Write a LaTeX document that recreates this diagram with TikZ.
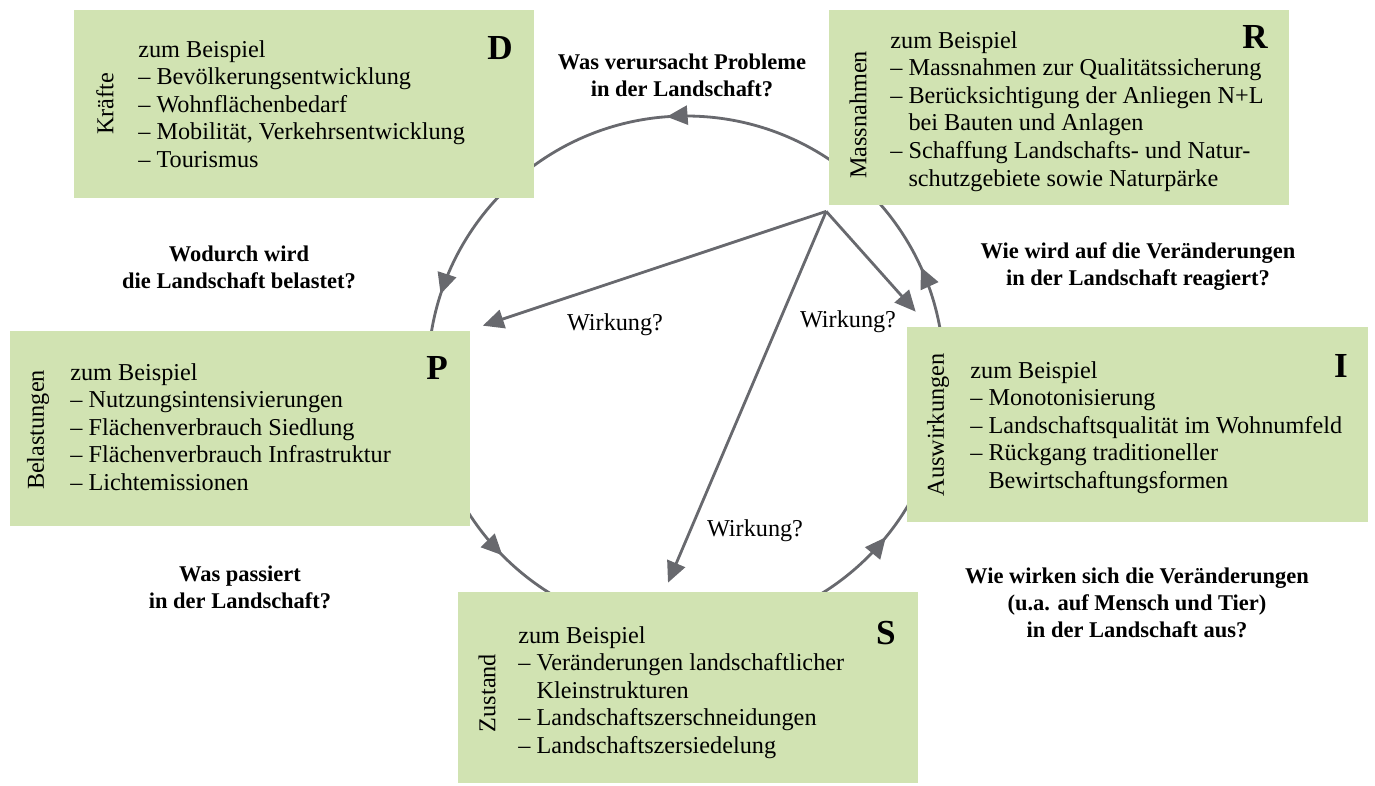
\documentclass[tikz,border=0pt]{standalone}
\usepackage{fontspec}
\setmainfont{Liberation Serif}
\usetikzlibrary{arrows.meta, positioning, calc, decorations.markings}
\definecolor{BoxGreen}{RGB}{209,227,178}
\definecolor{RingGray}{RGB}{104,105,110}
\newcommand{\contline}{\hphantom{–~}}

\begin{document}
\begin{tikzpicture}[x=0.02cm, y=-0.02cm,
    box/.style={fill=BoxGreen, inner sep=0pt, minimum width=9.22cm},
    side/.style={rotate=90, font=\fontsize{13.8}{15.7}\selectfont},
    items/.style={anchor=north west, inner sep=0pt, align=left, font=\fontsize{13.8}{15.7}\selectfont},
    letter/.style={font=\fontsize{20}{24}\selectfont\bfseries},
    question/.style={align=center, font=\fontsize{12.8}{15.4}\selectfont\bfseries},
    effect/.style={font=\fontsize{13.8}{15.7}\selectfont},
    ring/.style={RingGray, line width=1.6pt},
    arrow/.style={RingGray, line width=1.6pt, -{Triangle[length=0.42cm, width=0.38cm]}}
]
    \useasboundingbox (0,0) rectangle (1375,785);

    % the cycle behind the boxes
    \coordinate (C) at (686,374);
    \draw[ring, postaction={decorate}, decoration={markings,
        mark=at position 0.109 with {\arrowreversed{Triangle[length=0.42cm, width=0.38cm]}},
        mark=at position 0.376 with {\arrowreversed{Triangle[length=0.42cm, width=0.38cm]}},
        mark=at position 0.550 with {\arrowreversed{Triangle[length=0.42cm, width=0.38cm]}},
        mark=at position 0.738 with {\arrowreversed{Triangle[length=0.42cm, width=0.38cm]}},
        mark=at position 0.932 with {\arrowreversed{Triangle[length=0.42cm, width=0.38cm]}}}]
        (C) circle[radius=258];

    % boxes
    \node[box, minimum height=3.76cm] (D) at (304,104) {};
    \node[box, minimum height=3.9cm] (R) at (1059,107.5) {};
    \node[box, minimum height=3.9cm] (P) at (240,428.5) {};
    \node[box, minimum height=3.9cm] (I) at (1137.5,424.5) {};
    \node[box, minimum height=3.82cm] (S) at (688,687.5) {};

    % D
    \node[side] (Dside) at (105,104) {Kräfte};
    \node[letter] (Dletter) at (500,48) {D};
    \node[items] (Ditems) at (138,40) {zum Beispiel\\
        – Bevölkerungsentwicklung\\
        – Wohnflächenbedarf\\
        – Mobilität, Verkehrsentwicklung\\
        – Tourismus};

    % R
    \node[side] (Rside) at (858,115) {Massnahmen};
    \node[letter] (Rletter) at (1255,37) {R};
    \node[items] (Ritems) at (890,31) {zum Beispiel\\
        – Massnahmen zur Qualitätssicherung\\
        – Berücksichtigung der Anliegen N+L\\
        \contline bei Bauten und Anlagen\\
        – Schaffung Landschafts- und Natur-\\
        \contline schutzgebiete sowie Naturpärke};

    % P
    \node[side] (Pside) at (38,430) {Belastungen};
    \node[letter] (Pletter) at (437,368) {P};
    \node[items] (Pitems) at (70,363) {zum Beispiel\\
        – Nutzungsintensivierungen\\
        – Flächenverbrauch Siedlung\\
        – Flächenverbrauch Infrastruktur\\
        – Lichtemissionen};

    % I
    \node[side] (Iside) at (938,425) {Auswirkungen};
    \node[letter] (Iletter) at (1341,366) {I};
    \node[items] (Iitems) at (970,361) {zum Beispiel\\
        – Monotonisierung\\
        – Landschaftsqualität im Wohnumfeld\\
        – Rückgang traditioneller\\
        \contline Bewirtschaftungsformen};

    % S
    \node[side] (Sside) at (487,693) {Zustand};
    \node[letter] (Sletter) at (886,633) {S};
    \node[items] (Sitems) at (518,626) {zum Beispiel\\
        – Veränderungen landschaftlicher\\
        \contline Kleinstrukturen\\
        – Landschaftszerschneidungen\\
        – Landschaftszersiedelung};

    % questions
    \node[question] (qD) at (682,75.5) {Was verursacht Probleme\\in der Landschaft?};
    \node[question] (qP) at (239,267.5) {Wodurch wird\\die Landschaft belastet?};
    \node[question] (qR) at (1138,267) {Wie wird auf die Veränderungen\\in der Landschaft reagiert?};
    \node[question] (qS) at (240,587.5) {Was passiert\\in der Landschaft?};
    \node[question] (qI) at (1137,602.5) {Wie wirken sich die Veränderungen\\(u.a. auf Mensch und Tier)\\in der Landschaft aus?};

    % Wirkung arrows
    \coordinate (src) at ($(R.south west)+(-2,6)$);
    \coordinate (toP) at ($(P.north east)+(12,-5)$);
    \coordinate (toI) at ($(I.north west)+(9,-15)$);
    \coordinate (toS) at ($(S.north)+(-20,-9)$);
    \draw[arrow] (src) -- (toP);
    \draw[arrow] (src) -- (toI);
    \draw[arrow] (src) -- (toS);
    \node[effect] (wP) at (615,325) {Wirkung?};
    \node[effect] (wI) at (848,322) {Wirkung?};
    \node[effect] (wS) at (755,531) {Wirkung?};
\end{tikzpicture}
\end{document}
